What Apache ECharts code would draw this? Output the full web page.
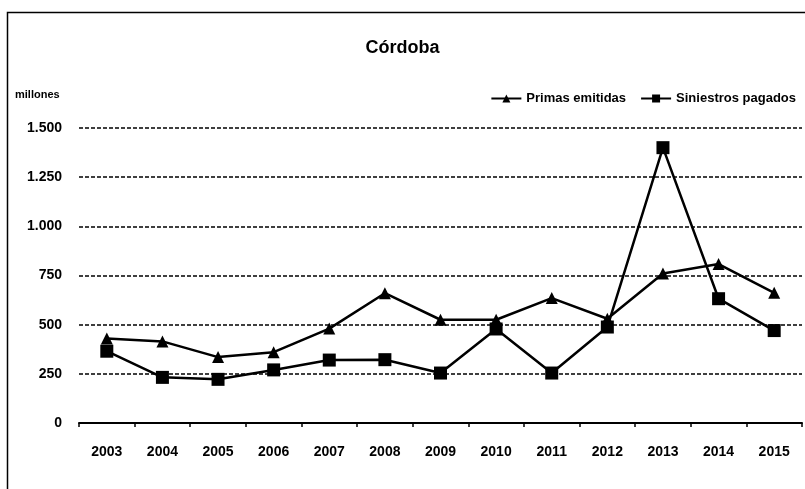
<!DOCTYPE html>
<html>
<head>
<meta charset="utf-8">
<script src="https://cdn.jsdelivr.net/npm/echarts@6/dist/echarts.min.js"></script>
<style>
  html, body { margin: 0; padding: 0; background: #fff; }
  #chart { width: 805px; height: 489px; }
</style>
</head>
<body>
<div id="chart"></div>
<script>
const years = ['2003', '2004', '2005', '2006', '2007', '2008', '2009', '2010', '2011', '2012', '2013', '2014', '2015']
const primasEmitidas = [430, 415, 335, 360, 480, 660, 525, 525, 635, 530, 760, 808, 662]
const siniestrosPagados = [365, 232, 222, 270, 320, 322, 254, 478, 254, 488, 1400, 632, 470]
const yTicks = [0, 250, 500, 750, 1000, 1250, 1500]

const font = 'Liberation Sans, Arial, sans-serif'

function formatMiles(v) {
  // separador de miles con punto
  return String(v).replace(/\B(?=(\d{3})+(?!\d))/g, '.')
}

const chart = echarts.init(document.getElementById('chart'))

chart.setOption({
  backgroundColor: '#fff',
  animation: false,
  title: {
    text: 'Córdoba',
    left: 'center',
    top: 34,
    textStyle: { fontFamily: font, fontSize: 18, fontWeight: 'bold', color: '#000' }
  },
  legend: {
    right: 4,
    top: 87,
    itemWidth: 30,
    itemHeight: 10,
    itemGap: 14,
    textStyle: { fontFamily: font, fontSize: 13, fontWeight: 'bold', color: '#000' },
    data: ['Primas emitidas', 'Siniestros pagados']
  },
  graphic: [
    {
      type: 'rect',
      shape: { x: 7.5, y: 12.5, width: 820, height: 500 },
      style: { fill: 'none', stroke: '#000', lineWidth: 1.5 }
    },
    {
      type: 'text',
      left: 15,
      top: 89,
      style: { text: 'millones', font: 'bold 11px ' + font, fill: '#000' }
    }
  ],
  grid: {
    left: 79,
    right: 3,
    top: 128,
    bottom: 66,
    containLabel: false
  },
  xAxis: {
    type: 'category',
    data: years,
    boundaryGap: true,
    axisLine: { show: true, lineStyle: { color: '#000', width: 2 } },
    axisTick: { show: true, length: 4, lineStyle: { color: '#000', width: 1.5 } },
    axisLabel: { margin: 22, fontFamily: font, fontSize: 14, fontWeight: 'bold', color: '#000' },
    splitLine: { show: false }
  },
  yAxis: {
    type: 'value',
    min: yTicks[0],
    max: yTicks[yTicks.length - 1],
    interval: 250,
    axisLine: { show: false },
    axisTick: { show: false },
    axisLabel: {
      margin: 17,
      fontFamily: font,
      fontSize: 14,
      fontWeight: 'bold',
      color: '#000',
      formatter: v => (v === 0 ? '0' : formatMiles(v))
    },
    splitLine: { show: true, lineStyle: { color: '#000', width: 1.5, type: [4, 2] } }
  },
  series: [
    {
      name: 'Primas emitidas',
      type: 'line',
      data: primasEmitidas,
      symbol: 'triangle',
      symbolSize: 12,
      showAllSymbol: true,
      lineStyle: { color: '#000', width: 2.5 },
      itemStyle: { color: '#000' }
    },
    {
      name: 'Siniestros pagados',
      type: 'line',
      data: siniestrosPagados,
      symbol: 'rect',
      symbolSize: 13,
      showAllSymbol: true,
      lineStyle: { color: '#000', width: 2.5 },
      itemStyle: { color: '#000' }
    }
  ]
})
</script>
</body>
</html>
